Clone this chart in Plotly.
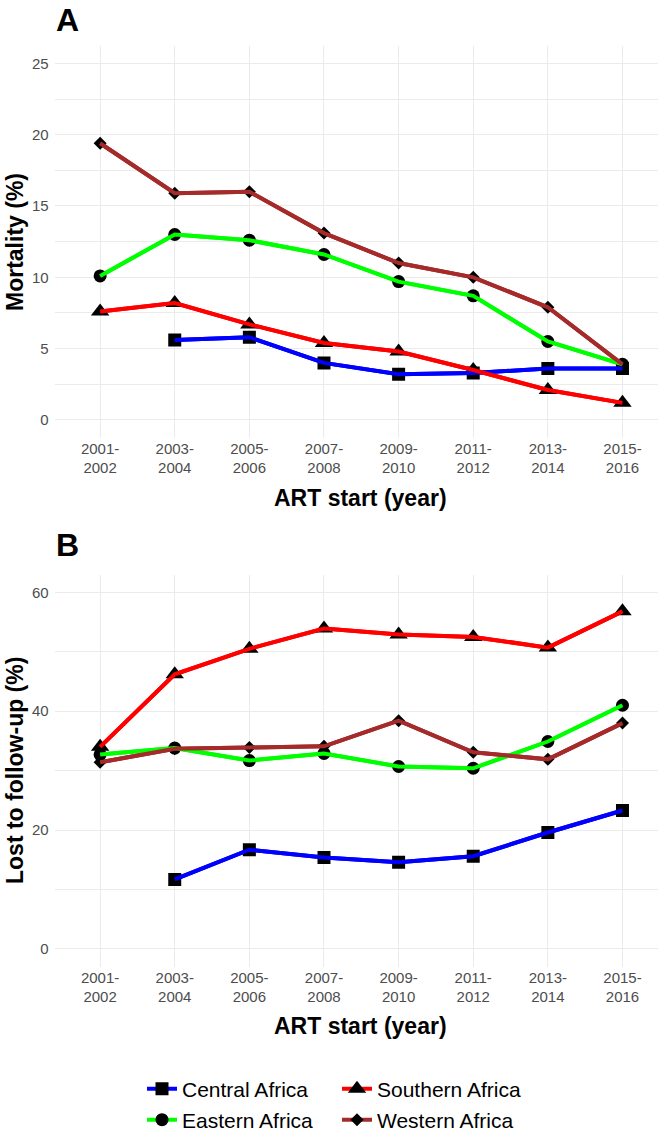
import plotly.graph_objects as go

# ART start periods (x categories)
periods = ["2001-<br>2002", "2003-<br>2004", "2005-<br>2006", "2007-<br>2008",
           "2009-<br>2010", "2011-<br>2012", "2013-<br>2014", "2015-<br>2016"]
x_pos = list(range(len(periods)))

regions = ["Central Africa", "Eastern Africa", "Southern Africa", "Western Africa"]

# Panel A: mortality (%)
mort_central = [None, 5.6, 5.8, 4.0, 3.2, 3.3, 3.6, 3.6]
mort_eastern = [10.1, 13.0, 12.6, 11.6, 9.7, 8.7, 5.5, 3.9]
mort_southern = [7.6, 8.2, 6.7, 5.4, 4.8, 3.5, 2.1, 1.2]
mort_western = [19.4, 15.9, 16.0, 13.1, 11.0, 10.0, 7.9, 3.9]

# Panel B: lost to follow-up (%)
ltfu_central = [None, 11.7, 16.7, 15.4, 14.6, 15.6, 19.6, 23.3]
ltfu_eastern = [32.7, 33.8, 31.7, 32.9, 30.7, 30.4, 34.9, 41.0]
ltfu_southern = [34.0, 46.2, 50.5, 53.9, 52.9, 52.5, 50.7, 56.8]
ltfu_western = [31.4, 33.7, 33.9, 34.1, 38.4, 33.1, 31.9, 38.0]

colors = {"Central Africa": "#0000FF", "Eastern Africa": "#00FF00",
          "Southern Africa": "#FF0000", "Western Africa": "#A52A2A"}
symbols = {"Central Africa": ("square", 13), "Eastern Africa": ("circle", 13),
           "Southern Africa": ("triangle-up", 16), "Western Africa": ("diamond", 10)}
legend_of = {"Central Africa": "legend", "Southern Africa": "legend",
             "Eastern Africa": "legend2", "Western Africa": "legend2"}

panel_a = dict(zip(regions, [mort_central, mort_eastern, mort_southern, mort_western]))
panel_b = dict(zip(regions, [ltfu_central, ltfu_eastern, ltfu_southern, ltfu_western]))

order = ["Central Africa", "Southern Africa", "Eastern Africa", "Western Africa"]

fig = go.Figure()

for xa, ya, data, first in [("x", "y", panel_a, True), ("x2", "y2", panel_b, False)]:
    # markers first (with legend), then lines on top like ggplot
    for r in order:
        sym, size = symbols[r]
        fig.add_trace(go.Scatter(
            x=x_pos, y=data[r], mode="lines+markers", name=r,
            line=dict(color=colors[r], width=4),
            marker=dict(symbol=sym, size=size, color="black"),
            xaxis=xa, yaxis=ya, legendgroup=r, showlegend=first,
            legend=legend_of[r],
        ))
    for r in order:
        fig.add_trace(go.Scatter(
            x=x_pos, y=data[r], mode="lines", name=r,
            line=dict(color=colors[r], width=4),
            xaxis=xa, yaxis=ya, legendgroup=r, showlegend=False,
            hoverinfo="skip",
        ))

W, H = 658, 1131
x_dom = [54.6 / W, 1.0]
a_dom = [1 - 437.8 / H, 1 - 45.5 / H]
b_dom = [1 - 966.8 / H, 1 - 574.5 / H]

grid = "#EBEBEB"
tickfont = dict(family="Liberation Sans, Arial, sans-serif", size=15, color="#4D4D4D")

xaxis_common = dict(
    tickmode="array", tickvals=x_pos, ticktext=periods,
    range=[-0.61, 7.476], showgrid=True, gridcolor=grid, gridwidth=1.4,
    zeroline=False, showline=False, ticks="", tickfont=tickfont, domain=x_dom,
)
yaxis_common = dict(
    showgrid=True, gridcolor=grid, gridwidth=1.4, zeroline=False, showline=False,
    ticks="", tickfont=tickfont, ticklabelstandoff=5,
)

# margins are zero, so paper coords == page pixels; keep legends inside paper
# so they don't push the margins
legend_common = dict(orientation="h", xref="paper", yref="paper",
                     x=142 / W, xanchor="left", yanchor="middle",
                     font=dict(size=21, color="black"), entrywidth=150,
                     bgcolor="rgba(0,0,0,0)")

fig.update_layout(
    width=W, height=H,
    margin=dict(l=0, r=0, t=0, b=0, autoexpand=False),
    plot_bgcolor="white", paper_bgcolor="white",
    font=dict(family="Liberation Sans, Arial, sans-serif", color="black"),
    xaxis=dict(xaxis_common, anchor="y"),
    xaxis2=dict(xaxis_common, anchor="y2"),
    yaxis=dict(yaxis_common, range=[-1.25, 26.25], tickvals=[0, 5, 10, 15, 20, 25],
               minor=dict(showgrid=True, dtick=2.5, tick0=0, gridcolor=grid, gridwidth=0.7),
               domain=a_dom, anchor="x"),
    yaxis2=dict(yaxis_common, range=[-3, 63], tickvals=[0, 20, 40, 60],
                minor=dict(showgrid=True, dtick=10, tick0=0, gridcolor=grid, gridwidth=0.7),
                domain=b_dom, anchor="x2"),
    legend=dict(legend_common, y=1 - 1089 / H),
    legend2=dict(legend_common, y=1 - 1120 / H),
    showlegend=True,
)

title_font = dict(size=23, color="black", family="Liberation Sans, Arial, sans-serif")
x_mid = (54.6 + 667) / 2 / W
annotations = [
    dict(text="<b>A</b>", x=54 / W, y=1.0, xanchor="left", yanchor="top",
         font=dict(size=32, color="black")),
    dict(text="<b>B</b>", x=54 / W, y=1 - 544.5 / H, xanchor="left", yanchor="middle",
         font=dict(size=32, color="black")),
    dict(text="<b>ART start (year)</b>", x=x_mid, y=1 - 498 / H,
         xanchor="center", yanchor="middle", font=title_font),
    dict(text="<b>ART start (year)</b>", x=x_mid, y=1 - 1026 / H,
         xanchor="center", yanchor="middle", font=title_font),
    dict(text="<b>Mortality (%)</b>", x=15 / W, y=1 - 242 / H, textangle=-90,
         xanchor="center", yanchor="middle", font=title_font),
    dict(text="<b>Lost to follow-up (%)</b>", x=15 / W, y=1 - 771 / H, textangle=-90,
         xanchor="center", yanchor="middle", font=title_font),
]
for a in annotations:
    a.update(xref="paper", yref="paper", showarrow=False)
fig.update_layout(annotations=annotations)

# remove the default 8px page margin so the figure sits at the window corner
fig.write_html("out.html", config={"displayModeBar": False},
               post_script="document.body.style.margin='0';")
